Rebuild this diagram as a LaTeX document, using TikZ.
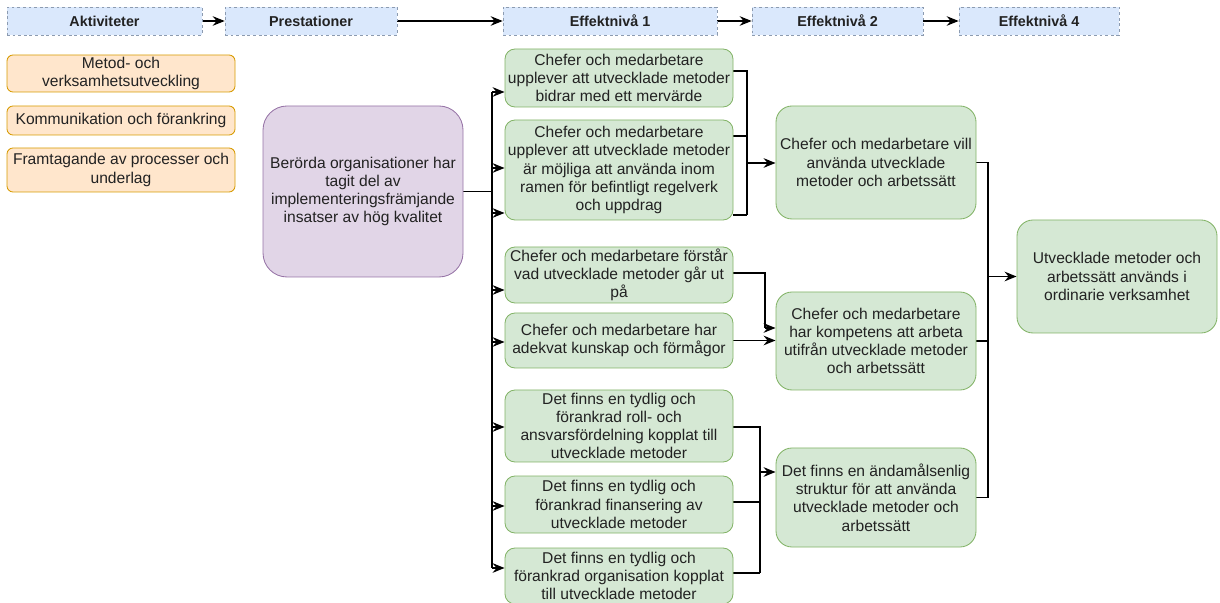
\documentclass[tikz,border=0pt]{standalone}
\usepackage{fontspec}
\setmainfont{Liberation Sans}
\usepackage{tikz}
\usetikzlibrary{arrows.meta}
\pgfdeclarelayer{edgelayer}
\pgfdeclarelayer{nodelayer}
\pgfsetlayers{edgelayer,nodelayer,main}
\definecolor{headerfill}{HTML}{DAE8FC}
\definecolor{headerline}{HTML}{8C9BB0}
\definecolor{activityfill}{HTML}{FFE6CC}
\definecolor{activityline}{HTML}{D79B00}
\definecolor{prestationfill}{HTML}{E1D5E7}
\definecolor{prestationline}{HTML}{9673A6}
\definecolor{effectfill}{HTML}{D5E8D4}
\definecolor{effectline}{HTML}{82B366}
\definecolor{inktext}{HTML}{222222}
\newcommand{\boxfont}{\fontsize{11.1}{13}\selectfont}
\newcommand{\headfont}{\fontsize{10.2}{12}\selectfont\bfseries}
\tikzstyle{none} = []
\tikzstyle{headerbox} = [rectangle, draw=headerline, dash pattern=on 2pt off 2pt, fill=headerfill, line width=0.5pt, minimum height=0.7cm, font=\headfont, text=inktext]
\tikzstyle{activitybox} = [rectangle, rounded corners=0.15cm, draw=activityline, fill=activityfill, line width=0.6pt, minimum width=5.7cm, align=center, font=\boxfont, text=inktext, inner sep=1pt]
\tikzstyle{prestationbox} = [rectangle, rounded corners=0.6cm, draw=prestationline, fill=prestationfill, line width=0.6pt, minimum width=5cm, minimum height=4.275cm, align=center, font=\boxfont, text=inktext]
\tikzstyle{effectbox} = [rectangle, rounded corners=0.25cm, draw=effectline, fill=effectfill, line width=0.6pt, minimum width=5.7cm, align=center, font=\boxfont, text=inktext, inner sep=1pt]
\tikzstyle{effectwide} = [effectbox, rounded corners=0.4cm, minimum width=5cm]
\tikzstyle{wire} = [line width=0.9pt]
\tikzstyle{pointer} = [line width=0.9pt, -{Stealth[length=3mm, width=2.4mm, inset=1mm]}]

\begin{document}
\begin{tikzpicture}[scale = 0.5]
	\useasboundingbox (0, 0) rectangle (61, -30.15);
	\begin{pgfonlayer}{nodelayer}
		\node [style=headerbox, minimum width=4.875cm] (0) at (5.225, -1.05) {Aktiviteter};
		\node [style=headerbox, minimum width=4.3cm] (1) at (15.55, -1.05) {Prestationer};
		\node [style=headerbox, minimum width=5.35cm] (2) at (30.5, -1.05) {Effektnivå 1};
		\node [style=headerbox, minimum width=4.275cm] (3) at (41.875, -1.05) {Effektnivå 2};
		\node [style=headerbox, minimum width=4cm] (4) at (51.95, -1.05) {Effektnivå 4};
		\node [style=activitybox, minimum height=0.925cm] (5) at (6.05, -3.675) {Metod- och\\verksamhetsutveckling};
		\node [style=activitybox, minimum height=0.725cm] (6) at (6.05, -6.025) {Kommunikation och förankring};
		\node [style=activitybox, minimum height=1.1cm] (7) at (6.05, -8.5) {Framtagande av processer och\\underlag};
		\node [style=prestationbox] (8) at (18.15, -9.575) {Berörda organisationer har\\tagit del av\\implementeringsfrämjande\\insatser av hög kvalitet};
		\node [style=effectbox, minimum height=1.45cm] (9) at (30.95, -3.9) {Chefer och medarbetare\\upplever att utvecklade metoder\\bidrar med ett mervärde};
		\node [style=effectbox, minimum height=2.5cm] (10) at (30.95, -8.5) {Chefer och medarbetare\\upplever att utvecklade metoder\\är möjliga att använda inom\\ramen för befintligt regelverk\\och uppdrag};
		\node [style=effectbox, minimum height=1.4cm] (11) at (30.95, -13.75) {Chefer och medarbetare förstår\\vad utvecklade metoder går ut\\på};
		\node [style=effectbox, minimum height=1.375cm] (12) at (30.95, -17.025) {Chefer och medarbetare har\\adekvat kunskap och förmågor};
		\node [style=effectbox, minimum height=1.8cm] (13) at (30.95, -21.3) {Det finns en tydlig och\\förankrad roll- och\\ansvarsfördelning kopplat till\\utvecklade metoder};
		\node [style=effectbox, minimum height=1.425cm] (14) at (30.95, -25.225) {Det finns en tydlig och\\förankrad finansering av\\utvecklade metoder};
		\node [style=effectbox, minimum height=1.4cm] (15) at (30.95, -28.8) {Det finns en tydlig och\\förankrad organisation kopplat\\till utvecklade metoder};
		\node [style=effectwide, minimum height=2.825cm] (16) at (43.8, -8.125) {Chefer och medarbetare vill\\använda utvecklade\\metoder och arbetssätt};
		\node [style=effectwide, minimum height=2.45cm] (17) at (43.8, -17.05) {Chefer och medarbetare\\har kompetens att arbeta\\utifrån utvecklade metoder\\och arbetssätt};
		\node [style=effectwide, minimum height=2.475cm] (18) at (43.8, -24.875) {Det finns en ändamålsenlig\\struktur för att använda\\utvecklade metoder och\\arbetssätt};
		\node [style=effectwide, minimum height=2.825cm] (19) at (55.85, -13.825) {Utvecklade metoder och\\arbetssätt används i\\ordinarie verksamhet};
		\node [style=none] (20) at (24.6, -9.575) {};
		\node [style=none] (21) at (24.6, -4.6) {};
		\node [style=none] (22) at (24.6, -8.4) {};
		\node [style=none] (23) at (24.6, -10.65) {};
		\node [style=none] (24) at (24.6, -14.5) {};
		\node [style=none] (25) at (24.6, -17.1) {};
		\node [style=none] (26) at (24.6, -21.35) {};
		\node [style=none] (27) at (24.6, -25.3) {};
		\node [style=none] (28) at (24.6, -28.4) {};
		\node [style=none] (29) at (37.35, -3.55) {};
		\node [style=none] (30) at (37.35, -6.8) {};
		\node [style=none] (31) at (37.35, -10.75) {};
		\node [style=none] (32) at (37.35, -8.15) {};
		\node [style=none] (33) at (38.25, -13.65) {};
		\node [style=none] (34) at (38.25, -16.4) {};
		\node [style=none] (35) at (38, -21.35) {};
		\node [style=none] (36) at (38, -25.1) {};
		\node [style=none] (37) at (38, -28.65) {};
		\node [style=none] (38) at (38, -23.6) {};
		\node [style=none] (39) at (49.4, -8.125) {};
		\node [style=none] (40) at (49.4, -17.05) {};
		\node [style=none] (41) at (49.4, -24.875) {};
		\node [style=none] (42) at (49.4, -13.825) {};
	\end{pgfonlayer}
	\begin{pgfonlayer}{edgelayer}
		\draw [style=pointer] (0.east) to (1.west);
		\draw [style=pointer] (1.east) to (2.west);
		\draw [style=pointer] (2.east) to (3.west);
		\draw [style=pointer] (3.east) to (4.west);
		\draw [style=wire] (8.east) to (20.center);
		\draw [style=wire] (21.center) to (28.center);
		\draw [style=pointer] (21.center) to (21.center -| 9.west);
		\draw [style=pointer] (22.center) to (22.center -| 10.west);
		\draw [style=pointer] (23.center) to (23.center -| 10.west);
		\draw [style=pointer] (24.center) to (24.center -| 11.west);
		\draw [style=pointer] (25.center) to (25.center -| 12.west);
		\draw [style=pointer] (26.center) to (26.center -| 13.west);
		\draw [style=pointer] (27.center) to (27.center -| 14.west);
		\draw [style=pointer] (28.center) to (28.center -| 15.west);
		\draw [style=wire] (29.center -| 9.east) to (29.center) to (31.center);
		\draw [style=wire] (30.center -| 10.east) to (30.center);
		\draw [style=wire] (31.center -| 10.east) to (31.center);
		\draw [style=pointer] (32.center) to (32.center -| 16.west);
		\draw [style=wire] (33.center -| 11.east) to (33.center) to (34.center);
		\draw [style=pointer] (34.center) to (34.center -| 17.west);
		\draw [style=pointer] (12.east) to (12.east -| 17.west);
		\draw [style=wire] (35.center -| 13.east) to (35.center) to (37.center);
		\draw [style=wire] (36.center -| 14.east) to (36.center);
		\draw [style=wire] (37.center -| 15.east) to (37.center);
		\draw [style=pointer] (38.center) to (38.center -| 18.west);
		\draw [style=wire] (16.east) to (39.center) to (41.center);
		\draw [style=wire] (17.east) to (40.center);
		\draw [style=wire] (18.east) to (41.center);
		\draw [style=pointer] (42.center) to (19.west);
	\end{pgfonlayer}
\end{tikzpicture}
\end{document}
